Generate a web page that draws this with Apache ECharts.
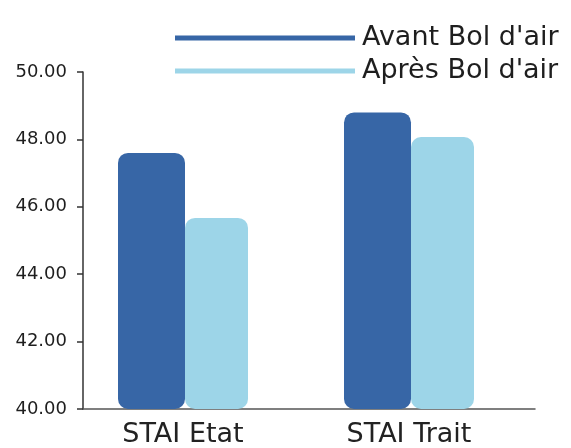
<!DOCTYPE html>
<html>
<head>
<meta charset="utf-8">
<script src="https://cdn.jsdelivr.net/npm/echarts@6/dist/echarts.min.js"></script>
<style>
  html, body { margin: 0; padding: 0; background: #ffffff; }
  #chart { width: 571px; height: 448px; }
</style>
</head>
<body>
<div id="chart"></div>
<script>
// STAI scores before and after the "Bol d'air" session
const categories = ['STAI Etat', 'STAI Trait'];
const seriesNames = ['Avant Bol d\'air', 'Après Bol d\'air'];
const avantValues = [47.6, 48.8];
const apresValues = [45.67, 48.07];
const yTicks = { min: 40, max: 50, interval: 2 };

const FONT = 'DejaVu Sans';
const DARK = '#3766a6';
const LIGHT = '#9dd5e8';

const chart = echarts.init(document.getElementById('chart'), null, { renderer: 'canvas' });

chart.setOption({
  animation: false,
  backgroundColor: '#ffffff',
  legend: {
    orient: 'vertical',
    left: 170,
    top: 17,
    itemWidth: 180,
    itemHeight: 5,
    itemGap: 1,
    icon: 'rect',
    data: seriesNames,
    textStyle: {
      fontFamily: FONT,
      fontSize: 27,
      lineHeight: 24,
      color: '#1e1e1e',
      padding: [0, 0, 8, 2]
    }
  },
  grid: [
    // plotting area for the bars
    { left: 70, right: 49, top: 72, bottom: 39, outerBoundsMode: 'none' },
    // frame carrying the visible axis lines
    { left: 83, right: 36, top: 72, bottom: 39, outerBoundsMode: 'none' }
  ],
  xAxis: [
    {
      type: 'category',
      gridIndex: 0,
      data: categories,
      axisLine: { show: false },
      axisTick: { show: false },
      axisLabel: {
        fontFamily: FONT,
        fontSize: 27,
        color: '#222222',
        margin: 12
      }
    },
    {
      type: 'category',
      gridIndex: 1,
      data: categories,
      axisLine: { show: true, lineStyle: { color: '#555555', width: 1.5 } },
      axisTick: { show: false },
      axisLabel: { show: false }
    }
  ],
  yAxis: [
    {
      type: 'value',
      gridIndex: 0,
      min: yTicks.min,
      max: yTicks.max,
      interval: yTicks.interval,
      show: false
    },
    {
      type: 'value',
      gridIndex: 1,
      min: yTicks.min,
      max: yTicks.max,
      interval: yTicks.interval,
      splitLine: { show: false },
      axisLine: { show: true, lineStyle: { color: '#333333', width: 1.5 } },
      axisTick: { show: true, inside: false, length: 6, lineStyle: { color: '#333333', width: 1.5 } },
      axisLabel: {
        fontFamily: FONT,
        fontSize: 18,
        color: '#1e1e1e',
        margin: 16,
        formatter: v => v.toFixed(2)
      }
    }
  ],
  series: [
    {
      name: seriesNames[0],
      type: 'bar',
      xAxisIndex: 0,
      yAxisIndex: 0,
      data: avantValues,
      barWidth: 67,
      barGap: '0%',
      itemStyle: { color: DARK, borderRadius: 10 }
    },
    {
      name: seriesNames[1],
      type: 'bar',
      xAxisIndex: 0,
      yAxisIndex: 0,
      data: apresValues,
      barWidth: 63,
      barGap: '0%',
      itemStyle: { color: LIGHT, borderRadius: 10 }
    }
  ]
});
</script>
</body>
</html>
